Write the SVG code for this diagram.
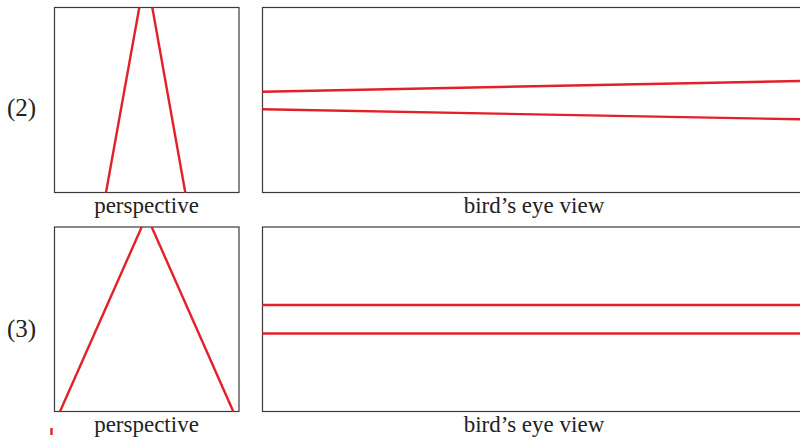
<svg xmlns="http://www.w3.org/2000/svg" width="800" height="440" viewBox="0 0 800 440">
<style>
.frame{fill:#fff;stroke:#3a3a3a;stroke-width:1.2}
.red{stroke:#e3202a;stroke-width:2.4;fill:none}
.lbl{font-family:"Liberation Serif","DejaVu Serif",serif;font-size:23px;fill:#222}
.num{font-size:25px}
</style>
<rect width="800" height="440" fill="#fff"/>
<g id="row2">
  <text class="lbl num" x="7" y="116">(2)</text>
  <g id="persp2">
    <rect class="frame" x="54.5" y="7.5" width="184.5" height="185"/>
    <line class="red" x1="139.3" y1="7.5" x2="106" y2="192.5"/>
    <line class="red" x1="152.3" y1="7.5" x2="185.3" y2="192.5"/>
    <text class="lbl" x="146.5" y="212.5" text-anchor="middle">perspective</text>
  </g>
  <g id="bird2">
    <rect class="frame" x="262.5" y="7.5" width="545" height="185"/>
    <line class="red" x1="262.5" y1="91.7" x2="800" y2="81"/>
    <line class="red" x1="262.5" y1="109.3" x2="800" y2="119.3"/>
    <text class="lbl" x="534" y="213" text-anchor="middle">bird’s eye view</text>
  </g>
</g>
<g id="row3">
  <text class="lbl num" x="7" y="337">(3)</text>
  <g id="persp3">
    <rect class="frame" x="54.5" y="227" width="184.5" height="184.5"/>
    <line class="red" x1="141.7" y1="227" x2="60" y2="411.5"/>
    <line class="red" x1="151.7" y1="227" x2="233.3" y2="411.5"/>
    <text class="lbl" x="146.5" y="431.5" text-anchor="middle">perspective</text>
  </g>
  <g id="bird3">
    <rect class="frame" x="262.5" y="227" width="545" height="184.5"/>
    <line class="red" x1="262.5" y1="305" x2="800" y2="305"/>
    <line class="red" x1="262.5" y1="333.5" x2="800" y2="333.5"/>
    <text class="lbl" x="534" y="432" text-anchor="middle">bird’s eye view</text>
  </g>
  <line class="red" x1="51.5" y1="428" x2="51.5" y2="435" stroke-width="1.2"/>
</g>
</svg>
